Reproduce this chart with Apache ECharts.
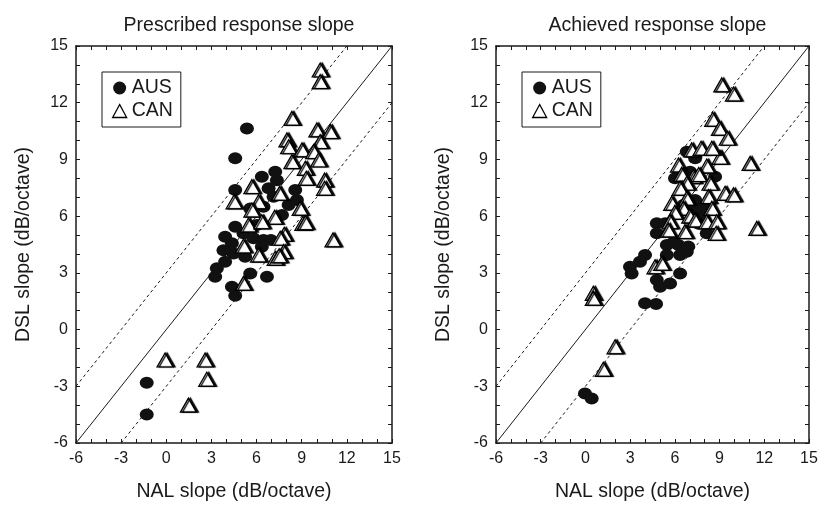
<!DOCTYPE html>
<html>
<head>
<meta charset="utf-8">
<script src="https://cdn.jsdelivr.net/npm/echarts@6/dist/echarts.min.js"></script>
<style>
  html, body { margin: 0; padding: 0; background: #fff; }
  #chart { width: 822px; height: 507px; }
</style>
</head>
<body>
<div id="chart"></div>
<script>
// values (dB/octave)
const prescribedAus = [
  [5.36, 10.64], [4.58, 9.06], [4.58, 7.38], [6.35, 8.08], [7.24, 8.35], [7.35, 7.9],
  [6.8, 7.47], [7.13, 7.03], [8.57, 7.38], [8.68, 6.85], [8.13, 6.59], [5.58, 6.41],
  [6.46, 6.5], [7.69, 6.06], [4.58, 5.44], [6.02, 5.53], [5.13, 5.09], [4.36, 4.56],
  [3.91, 4.91], [5.8, 4.83], [6.46, 4.74], [6.95, 4.74], [6.35, 4.38], [4.47, 4.03],
  [3.8, 4.2], [5.24, 3.85], [3.91, 3.59], [3.36, 3.24], [3.25, 2.8], [5.58, 2.97],
  [6.69, 2.79], [4.36, 2.27], [4.58, 1.79], [-1.3, -2.81], [-1.3, -4.49]
];
const prescribedCan = [
  [10.23, 13.73], [10.23, 13.11], [8.35, 11.17], [10.01, 10.56], [10.9, 10.47], [10.23, 9.94],
  [8.02, 10.03], [8.13, 9.67], [9.02, 9.5], [9.79, 9.41], [8.35, 8.88], [10.12, 8.97],
  [9.24, 8.53], [9.3, 8.0], [10.52, 7.9], [10.52, 7.47], [5.69, 7.56], [4.51, 6.76],
  [7.53, 7.2], [6.13, 6.76], [5.69, 6.32], [8.9, 6.41], [7.2, 5.94], [9.08, 5.62],
  [9.25, 5.65], [5.46, 5.53], [6.35, 5.7], [11.08, 4.74], [7.84, 5.04], [7.57, 4.83],
  [5.13, 4.42], [6.13, 3.94], [7.24, 3.77], [7.8, 4.12], [7.5, 3.9], [5.13, 2.44],
  [-0.08, -1.61], [2.58, -1.61], [2.69, -2.63], [1.47, -4.0]
];
const achievedAus = [
  [6.8, 9.41], [7.36, 9.06], [6.01, 8.0], [7.02, 8.35], [8.7, 8.09], [7.02, 6.5],
  [7.58, 6.41], [8.14, 6.41], [6.6, 6.6], [7.36, 6.85], [4.79, 5.62], [5.35, 5.62],
  [4.79, 5.09], [7.91, 5.88], [8.14, 5.09], [7.6, 5.6], [5.46, 4.47], [6.24, 4.47],
  [6.8, 4.12], [5.9, 4.6], [6.9, 4.4], [5.46, 3.94], [6.35, 3.94], [4.0, 3.94],
  [3.66, 3.59], [2.99, 3.32], [3.1, 2.97], [4.79, 2.62], [5.01, 2.26], [5.68, 2.44],
  [6.35, 2.97], [4.0, 1.39], [4.74, 1.35], [-0.03, -3.38], [0.42, -3.64]
];
const achievedCan = [
  [9.15, 12.94], [9.93, 12.46], [8.54, 11.12], [8.99, 10.64], [9.52, 10.12], [9.03, 9.11],
  [7.13, 9.5], [7.76, 9.59], [8.48, 9.59], [11.05, 8.79], [6.24, 8.7], [6.46, 8.21],
  [8.14, 8.65], [7.24, 8.09], [7.6, 8.2], [8.36, 7.74], [6.8, 7.74], [6.35, 7.47],
  [9.37, 7.21], [9.93, 7.12], [8.25, 7.03], [6.8, 6.94], [5.79, 6.68], [8.48, 6.41],
  [6.57, 6.41], [6.0, 6.2], [7.0, 6.0], [7.36, 5.79], [8.14, 5.7], [8.81, 5.7],
  [5.68, 5.7], [6.68, 5.18], [8.77, 5.09], [11.5, 5.35], [5.56, 5.26], [4.67, 3.32],
  [5.12, 3.5], [0.53, 1.92], [0.53, 1.65], [1.99, -0.91], [1.2, -2.1]
];
// reference lines: equality and +/- 3 dB/octave
const equalLine = [[-6, -6], [15, 15]];
const upperLine = [[-6, -3], [12, 15]];
const lowerLine = [[-3, -6], [15, 12]];
const panelTitles = ['Prescribed response slope', 'Achieved response slope'];
const axisMin = -6, axisMax = 15;

const font = 'Liberation Sans, Arial, sans-serif';
const ink = '#1a1a1a';

function valueAxis(gridIndex, pos, labelled, name) {
  return {
    type: 'value', gridIndex: gridIndex, position: pos,
    min: axisMin, max: axisMax, interval: 1,
    name: name || '', nameLocation: 'middle',
    nameGap: pos === 'left' ? 42 : 39,
    nameTextStyle: { fontFamily: font, fontSize: 19.5, color: ink },
    axisLine: { show: true, onZero: false, lineStyle: { color: ink, width: 1.5 } },
    axisTick: { show: true, inside: true, length: 4, lineStyle: { color: ink, width: 1 } },
    axisLabel: {
      show: labelled, fontFamily: font, fontSize: 16, color: ink, margin: 8,
      formatter: v => (v % 3 === 0 ? String(v) : '')
    },
    splitLine: { show: false }
  };
}

const grids = [
  { left: 76, top: 46, width: 316, height: 397 },
  { left: 496, top: 46, width: 313, height: 397 }
];

const xAxes = [], yAxes = [], series = [], titles = [], legends = [];
const panels = [[prescribedAus, prescribedCan], [achievedAus, achievedCan]];

panels.forEach((p, g) => {
  xAxes.push(valueAxis(g, 'bottom', true, 'NAL slope (dB/octave)'));
  xAxes.push(valueAxis(g, 'top', false));
  yAxes.push(valueAxis(g, 'left', true, 'DSL slope (dB/octave)'));
  yAxes.push(valueAxis(g, 'right', false));
  const xi = g * 2, yi = g * 2;

  titles.push({
    text: panelTitles[g],
    left: grids[g].left + grids[g].width / 2, top: 11, textAlign: 'center',
    textStyle: { fontFamily: font, fontSize: 19.5, fontWeight: 'normal', color: ink }
  });

  [[equalLine, 'solid'], [upperLine, [3, 3]], [lowerLine, [3, 3]]].forEach(([d, t]) => {
    series.push({
      type: 'line', xAxisIndex: xi, yAxisIndex: yi, data: d, symbol: 'none',
      silent: true, z: 1, lineStyle: { color: ink, width: 1, type: t }
    });
  });

  series.push({
    name: 'AUS', type: 'scatter', xAxisIndex: xi, yAxisIndex: yi, data: p[0],
    symbol: 'circle', symbolSize: [14, 12], z: 2,
    itemStyle: { color: '#111', opacity: 1 }
  });
  series.push({
    name: 'CAN', type: 'scatter', xAxisIndex: xi, yAxisIndex: yi, data: p[1],
    symbol: 'triangle', symbolSize: [16, 14], z: 3,
    itemStyle: {
      color: '#fff', borderColor: '#000', borderWidth: 1.3, opacity: 1,
      shadowColor: '#000', shadowBlur: 1, shadowOffsetX: 2, shadowOffsetY: 0
    }
  });

  legends.push({
    orient: 'vertical', left: grids[g].left + 26, top: 72,
    backgroundColor: '#fff', borderColor: ink, borderWidth: 1,
    padding: [6, 8, 6, 10], itemGap: 3, itemWidth: 14, itemHeight: 13,
    selectedMode: false,
    textStyle: { fontFamily: font, fontSize: 19.5, color: ink },
    data: [
      { name: 'AUS', icon: 'circle', itemStyle: { color: '#111' } },
      { name: 'CAN', icon: 'triangle',
        itemStyle: { color: '#fff', borderColor: '#000', borderWidth: 1.3, shadowColor: 'transparent' } }
    ]
  });
});

const chart = echarts.init(document.getElementById('chart'));
chart.setOption({
  animation: false,
  backgroundColor: '#fff',
  title: titles,
  legend: legends,
  grid: grids,
  xAxis: xAxes,
  yAxis: yAxes,
  series: series
});
</script>
</body>
</html>
